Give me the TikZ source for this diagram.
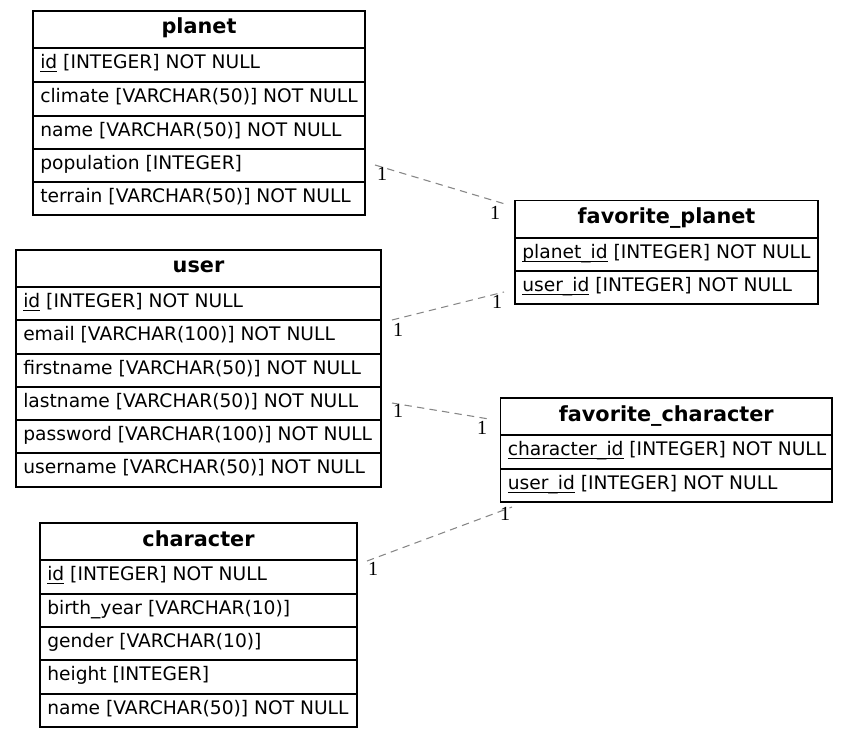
\documentclass[tikz,border=0pt]{standalone}
\usepackage{fontspec}
\setmainfont{DejaVu Sans}
\newfontfamily\lblfont{Liberation Serif}
\newcommand\keyul[1]{\setbox0\hbox{#1}\rlap{\rule[-2.4pt]{\wd0}{0.6pt}}\box0\relax}
\tikzset{
  cellbox/.style={draw=black, line width=0.9pt, inner sep=0pt, outer sep=0pt, anchor=north west},
  celltext/.style={inner sep=0pt, anchor=base west, font=\fontsize{14pt}{16pt}\selectfont},
  titletext/.style={inner sep=0pt, anchor=base, font=\fontsize{15.6pt}{18pt}\selectfont\bfseries},
  rel/.style={draw=gray!95, line width=0.8pt, dash pattern=on 5.5pt off 4pt},
  card/.style={inner sep=0pt, font=\fontsize{15pt}{17pt}\selectfont\lblfont},
}
% #1 name, #2 left, #3 top, #4 width, #5 height, #6 text
\newcommand\cellrow[6]{%
  \node[cellbox, minimum width=#4*0.75pt, minimum height=#5*0.75pt] (#1) at (#2,#3) {};
  \node[celltext] (#1-t) at ([shift={(7,20.5)}]#1.north west) {#6};}
\newcommand\hdrrow[6]{%
  \node[cellbox, minimum width=#4*0.75pt, minimum height=#5*0.75pt] (#1) at (#2,#3) {};
  \node[titletext] (#1-t) at ([shift={(0,23)}]#1.north) {#6};}
\begin{document}
\begin{tikzpicture}[x=0.75pt,y=-0.75pt]
\useasboundingbox (0,0) rectangle (848,737);
% planet
\hdrrow{planet}{33}{11}{332}{37}{planet}
\cellrow{planet-id}{33}{48}{332}{34}{\keyul{id} [INTEGER] NOT NULL}
\cellrow{planet-climate}{33}{82}{332}{34}{climate [VARCHAR(50)] NOT NULL}
\cellrow{planet-name}{33}{116}{332}{33}{name [VARCHAR(50)] NOT NULL}
\cellrow{planet-population}{33}{149}{332}{33}{population [INTEGER]}
\cellrow{planet-terrain}{33}{182}{332}{33}{terrain [VARCHAR(50)] NOT NULL}
% user
\hdrrow{user}{16}{250}{365}{37}{user}
\cellrow{user-id}{16}{287}{365}{33}{\keyul{id} [INTEGER] NOT NULL}
\cellrow{user-email}{16}{320}{365}{34}{email [VARCHAR(100)] NOT NULL}
\cellrow{user-firstname}{16}{354}{365}{33}{firstname [VARCHAR(50)] NOT NULL}
\cellrow{user-lastname}{16}{387}{365}{33}{lastname [VARCHAR(50)] NOT NULL}
\cellrow{user-password}{16}{420}{365}{33}{password [VARCHAR(100)] NOT NULL}
\cellrow{user-username}{16}{453}{365}{34}{username [VARCHAR(50)] NOT NULL}
% character
\hdrrow{character}{40}{523}{317}{37}{character}
\cellrow{character-id}{40}{560}{317}{34}{\keyul{id} [INTEGER] NOT NULL}
\cellrow{character-birth}{40}{594}{317}{33}{birth\_year [VARCHAR(10)]}
\cellrow{character-gender}{40}{627}{317}{33}{gender [VARCHAR(10)]}
\cellrow{character-height}{40}{660}{317}{34}{height [INTEGER]}
\cellrow{character-name}{40}{694}{317}{33}{name [VARCHAR(50)] NOT NULL}
% favorite_planet
\hdrrow{favplanet}{515}{200.5}{303}{37.5}{favorite\_planet}
\cellrow{favplanet-planet}{515}{238}{303}{33}{\keyul{planet\_id} [INTEGER] NOT NULL}
\cellrow{favplanet-user}{515}{271}{303}{33}{\keyul{user\_id} [INTEGER] NOT NULL}
% favorite_character
\hdrrow{favchar}{500.5}{398}{331.5}{37}{favorite\_character}
\cellrow{favchar-character}{500.5}{435}{331.5}{34}{\keyul{character\_id} [INTEGER] NOT NULL}
\cellrow{favchar-user}{500.5}{469}{331.5}{33}{\keyul{user\_id} [INTEGER] NOT NULL}
% connector ends
\coordinate (e1a) at (375,165);
\coordinate (e1b) at (505,204);
\coordinate (e2a) at (392,320);
\coordinate (e2b) at (504,292);
\coordinate (e3a) at (392,403);
\coordinate (e3b) at (489,419);
\coordinate (e4a) at (367,561);
\coordinate (e4b) at (512,507);
\draw[rel] (e1a) -- (e1b);
\draw[rel] (e2a) -- (e2b);
\draw[rel] (e3a) -- (e3b);
\draw[rel] (e4a) -- (e4b);
% cardinalities
\node[card] (c1a) at (382,174) {1};
\node[card] (c1b) at (495,213) {1};
\node[card] (c2a) at (398,330) {1};
\node[card] (c2b) at (497,302) {1};
\node[card] (c3a) at (398,411) {1};
\node[card] (c3b) at (482,428) {1};
\node[card] (c4a) at (373,569) {1};
\node[card] (c4b) at (505,514) {1};
\end{tikzpicture}
\end{document}
